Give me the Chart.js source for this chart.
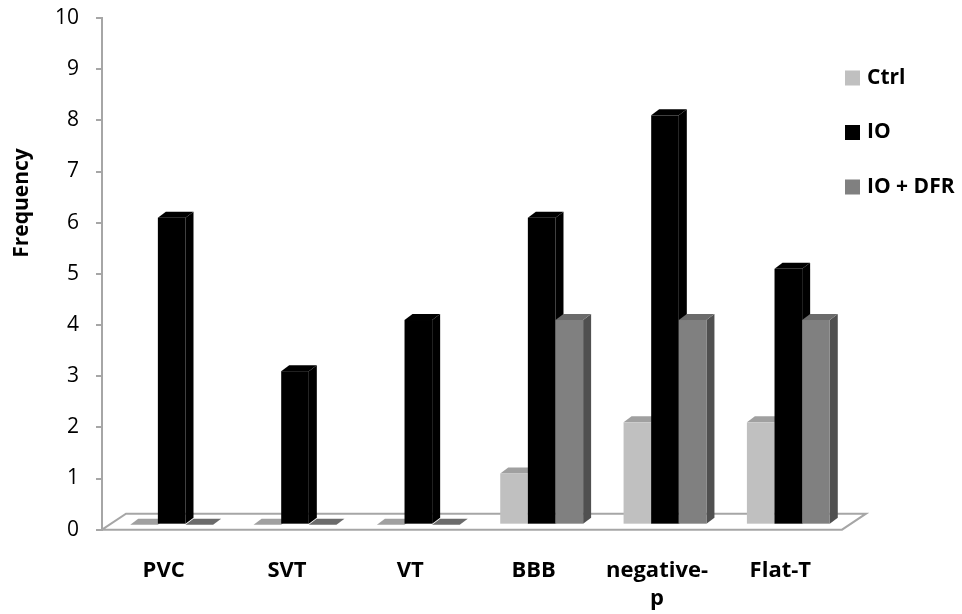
<!DOCTYPE html>
<html>
<head>
<meta charset="utf-8">
<script src="https://cdn.jsdelivr.net/npm/chart.js@4.4.1/dist/chart.umd.min.js"></script>
<style>
  html, body { margin: 0; padding: 0; background: #fff; }
  #wrap { width: 962px; height: 614px; }
</style>
</head>
<body>
<div id="wrap"><canvas id="chart"></canvas></div>
<script>
// Data
const categories = ['PVC', 'SVT', 'VT', 'BBB', ['negative-', 'p'], 'Flat-T'];
const ctrlValues = [0, 0, 0, 1, 2, 2];
const ioValues = [6, 3, 4, 6, 8, 5];
const ioDfrValues = [0, 0, 0, 4, 4, 4];
const seriesLabels = ['Ctrl', 'IO', 'IO + DFR'];
const yAxisTitle = 'Frequency';

// 3D look: bar depth, bar shift into the floor, floor depth
const DX = 8, DY = 6;
const SHIFT_X = 8, SHIFT_Y = 5;
const FLOOR_X = 24, FLOOR_Y = 16;

Chart.defaults.font.family = "'Open Sans', sans-serif";
Chart.defaults.color = '#000';

const bars3d = {
    id: 'bars3d',
    beforeDatasetsDraw(chart) {
        // draw the floor
        const { ctx, chartArea } = chart;
        const y0 = chart.scales.y.getPixelForValue(0);
        ctx.save();
        ctx.beginPath();
        ctx.moveTo(chartArea.left, y0);
        ctx.lineTo(chartArea.left + FLOOR_X, y0 - FLOOR_Y);
        ctx.lineTo(chartArea.right + FLOOR_X, y0 - FLOOR_Y);
        ctx.lineTo(chartArea.right, y0);
        ctx.closePath();
        ctx.fillStyle = '#fff';
        ctx.fill();
        ctx.strokeStyle = '#A6A6A6';
        ctx.lineWidth = 2;
        ctx.stroke();
        ctx.restore();
    },
    beforeDatasetDraw() {
        // bars are drawn below, left to right, so the faces overlap properly
        return false;
    },
    afterDatasetsDraw(chart) {
        const { ctx } = chart;
        const datasets = chart.data.datasets;
        ctx.save();
        ctx.translate(SHIFT_X, -SHIFT_Y);
        for (let j = 0; j < categories.length; j++) {
            datasets.forEach((ds, i) => {
                const el = chart.getDatasetMeta(i).data[j];
                const { x, y, base, width } = el.getProps(['x', 'y', 'base', 'width'], true);
                const l = x - width / 2, r = x + width / 2;
                const top = Math.min(y, base), bottom = Math.max(y, base);

                // side face
                ctx.fillStyle = ds.sideColor;
                ctx.beginPath();
                ctx.moveTo(r, top);
                ctx.lineTo(r + DX, top - DY);
                ctx.lineTo(r + DX, bottom - DY);
                ctx.lineTo(r, bottom);
                ctx.closePath();
                ctx.fill();

                // top face
                ctx.fillStyle = ds.topColor;
                ctx.beginPath();
                ctx.moveTo(l, top);
                ctx.lineTo(l + DX, top - DY);
                ctx.lineTo(r + DX, top - DY);
                ctx.lineTo(r, top);
                ctx.closePath();
                ctx.fill();

                // front face
                ctx.fillStyle = ds.backgroundColor;
                ctx.fillRect(l, top, width, bottom - top);
            });
        }
        ctx.restore();
    }
};

// legend on the right and the axis title, placed like the original
const sideLegend = {
    id: 'sideLegend',
    afterDraw(chart) {
        const { ctx, chartArea } = chart;
        ctx.save();
        ctx.font = "bold 21px 'Open Sans', sans-serif";
        ctx.textBaseline = 'middle';
        chart.data.datasets.forEach((ds, i) => {
            const cy = chartArea.top + 60 + i * 54.5;
            const bx = chartArea.right + 3;
            ctx.fillStyle = ds.backgroundColor;
            ctx.fillRect(bx, cy - 7.5, 15, 15);
            ctx.fillStyle = '#000';
            ctx.textAlign = 'left';
            ctx.fillText(ds.label, bx + 22, cy);
        });

        ctx.translate(22, chartArea.top + 185);
        ctx.rotate(-Math.PI / 2);
        ctx.textAlign = 'center';
        ctx.fillStyle = '#000';
        ctx.fillText(yAxisTitle, 0, 0);
        ctx.restore();
    }
};

const ctx = document.getElementById('chart').getContext('2d');
new Chart(ctx, {
    type: 'bar',
    data: {
        labels: categories,
        datasets: [
            { label: seriesLabels[0], data: ctrlValues, backgroundColor: '#C0C0C0', topColor: '#A0A0A0', sideColor: '#8C8C8C' },
            { label: seriesLabels[1], data: ioValues, backgroundColor: '#000000', topColor: '#000000', sideColor: '#000000' },
            { label: seriesLabels[2], data: ioDfrValues, backgroundColor: '#808080', topColor: '#6B6B6B', sideColor: '#505050' }
        ]
    },
    options: {
        responsive: true,
        maintainAspectRatio: false,
        animation: false,
        layout: {
            padding: { left: 38, right: 120, top: 18, bottom: -26 }
        },
        datasets: {
            bar: { categoryPercentage: 0.672, barPercentage: 1.0 }
        },
        plugins: {
            legend: { display: false },
            tooltip: { enabled: false }
        },
        scales: {
            x: {
                grid: { display: false, drawTicks: false },
                border: { display: false },
                ticks: {
                    padding: 27,
                    maxRotation: 0,
                    autoSkip: false,
                    font: { size: 22, weight: 'bold', lineHeight: 1.28 }
                }
            },
            y: {
                min: 0,
                max: 10,
                // the tick padding would otherwise push the plot top down
                afterFit(scale) {
                    scale.paddingTop = 0;
                },
                grid: {
                    drawOnChartArea: false,
                    drawTicks: true,
                    tickLength: 6,
                    color: '#A6A6A6',
                    lineWidth: 2
                },
                border: { display: true, color: '#A6A6A6', width: 2 },
                ticks: {
                    stepSize: 1,
                    padding: 17,
                    font: { size: 21 }
                }
            }
        }
    },
    plugins: [bars3d, sideLegend]
});
</script>
</body>
</html>
